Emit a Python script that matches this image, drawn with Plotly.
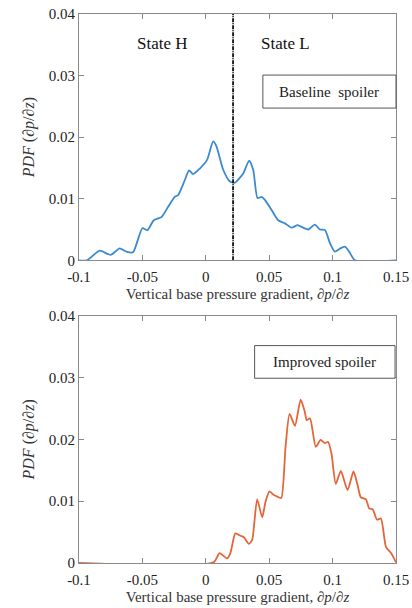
import plotly.graph_objects as go
from plotly.subplots import make_subplots

# Baseline spoiler PDF
base_x = [-0.1, -0.0937, -0.0837, -0.075, -0.068, -0.0626, -0.0574, -0.05, -0.046, -0.041,
          -0.035, -0.0297, -0.0245, -0.0218, -0.0166, -0.0132, -0.010, -0.0047, 0.001, 0.0058,
          0.0084, 0.0137, 0.019, 0.0229, 0.0295, 0.0342, 0.0374, 0.0408, 0.044, 0.0466,
          0.0518, 0.0571, 0.0624, 0.0676, 0.0724, 0.0768, 0.0808, 0.086, 0.09, 0.094,
          0.0979, 0.1018, 0.1058, 0.1097, 0.1131, 0.1176, 0.15]
base_y = [0, 0, 0.00157, 0.00087, 0.00195, 0.0014, 0.0013, 0.0052, 0.0049, 0.0065,
          0.0070, 0.0087, 0.0103, 0.0106, 0.0130, 0.0146, 0.0140, 0.0149, 0.0163, 0.0193,
          0.0185, 0.0147, 0.0128, 0.0126, 0.0141, 0.0162, 0.0147, 0.0101, 0.0103, 0.0098,
          0.0082, 0.0065, 0.0060, 0.0053, 0.0057, 0.0053, 0.0050, 0.0058, 0.0050, 0.0049,
          0.0028, 0.0014, 0.0019, 0.0022, 0.0014, 0, 0]

# Improved spoiler PDF
imp_x = [-0.1, 0.0061, 0.0109, 0.0167, 0.0194, 0.0233, 0.0273, 0.0299, 0.0339, 0.0365,
         0.0405, 0.0445, 0.0471, 0.0502, 0.0537, 0.0568, 0.0595, 0.0629, 0.0661, 0.0703,
         0.0748, 0.078, 0.0796, 0.0822, 0.0867, 0.0906, 0.0938, 0.0964, 0.0991, 0.1025,
         0.1065, 0.1118, 0.1165, 0.1197, 0.1223, 0.1263, 0.1289, 0.1316, 0.135, 0.1381,
         0.1421, 0.1461, 0.15]
imp_y = [0, 0.0001, 0.0016, 0.00076, 0.0016, 0.0048, 0.0044, 0.0042, 0.0031, 0.0037,
         0.0103, 0.0074, 0.0099, 0.0116, 0.0110, 0.0107, 0.0105, 0.0188, 0.0241, 0.0222,
         0.0264, 0.0245, 0.0231, 0.0234, 0.0188, 0.0199, 0.0194, 0.0196, 0.0177, 0.0128,
         0.0149, 0.0118, 0.0148, 0.0126, 0.0106, 0.0103, 0.0088, 0.0087, 0.0070, 0.0072,
         0.0026, 0.0016, 0.0001]

threshold_x = [0.0215, 0.0215]
threshold_y = [0, 0.04]

x_ticks = [-0.1, -0.05, 0, 0.05, 0.1, 0.15]
x_ticktext = ["-0.1", "-0.05", "0", "0.05", "0.1", "0.15"]
y_ticks = [0, 0.01, 0.02, 0.03, 0.04]
y_ticktext = ["0", "0.01", "0.02", "0.03", "0.04"]

SERIF = "Liberation Serif"

fig = make_subplots(rows=2, cols=1, vertical_spacing=0.1)

fig.add_trace(go.Scatter(x=base_x, y=base_y, mode="lines",
                         line=dict(color="#3b8ad0", width=1.8, shape="spline", smoothing=0.6),
                         showlegend=False), row=1, col=1)
fig.add_trace(go.Scatter(x=threshold_x, y=threshold_y, mode="lines",
                         line=dict(color="#111111", width=1.8, dash="4px,1px,1px,1px"),
                         showlegend=False), row=1, col=1)
fig.add_trace(go.Scatter(x=imp_x, y=imp_y, mode="lines",
                         line=dict(color="#e5653a", width=1.8, shape="spline", smoothing=0.6),
                         showlegend=False), row=2, col=1)

xtitle = "Vertical base pressure gradient, ∂<i>p</i>/∂<i>z</i>"
ytitle = "<i>PDF</i> (∂<i>p</i>/∂<i>z</i>)"

axis_common = dict(showgrid=False, zeroline=False, showline=True, linecolor="#8a8a8a",
                   linewidth=1, mirror="ticks", ticks="inside", ticklen=5, automargin=False,
                   tickcolor="#8a8a8a", tickfont=dict(family=SERIF, size=15, color="#222"))

for r, dom in [(1, [0.5514, 1.0]), (2, [0.0, 0.4505])]:
    fig.update_xaxes(range=[-0.1, 0.15], tickvals=x_ticks, ticktext=x_ticktext,
                     title=dict(text=xtitle, font=dict(family=SERIF, size=15, color="#333"),
                                standoff=4),
                     ticklabelstandoff=3,
                     **axis_common, row=r, col=1)
    fig.update_yaxes(range=[0, 0.04], tickvals=y_ticks, ticktext=y_ticktext, domain=dom,
                     title=dict(text=ytitle, font=dict(family=SERIF, size=16, color="#333"),
                                standoff=10),
                     **axis_common, row=r, col=1)

fig.add_annotation(x=-0.034, y=0.0352, xref="x", yref="y", text="State H", showarrow=False,
                   font=dict(family=SERIF, size=17, color="#111"))
fig.add_annotation(x=0.063, y=0.0352, xref="x", yref="y", text="State L", showarrow=False,
                   font=dict(family=SERIF, size=17, color="#111"))

# Legend-style boxes
fig.add_shape(type="rect", xref="x domain", yref="y domain", x0=0.58, x1=1.0, y0=0.618, y1=0.752,
              line=dict(color="#555", width=1), fillcolor="white")
fig.add_annotation(x=0.79, y=0.685, xref="x domain", yref="y domain", text="Baseline  spoiler",
                   xanchor="center", yanchor="middle",
                   showarrow=False, font=dict(family=SERIF, size=15, color="#222"))
fig.add_shape(type="rect", xref="x2 domain", yref="y2 domain", x0=0.554, x1=0.997, y0=0.747, y1=0.879,
              line=dict(color="#555", width=1), fillcolor="white")
fig.add_annotation(x=0.7755, y=0.813, xref="x2 domain", yref="y2 domain", text="Improved spoiler",
                   xanchor="center", yanchor="middle",
                   showarrow=False, font=dict(family=SERIF, size=15, color="#222"))

fig.update_layout(width=412, height=608, margin=dict(l=79, r=16, t=14, b=45),
                  plot_bgcolor="white", paper_bgcolor="white")

fig.write_html("out.html", config={"displayModeBar": False},
               post_script="document.body.style.margin='0';")
